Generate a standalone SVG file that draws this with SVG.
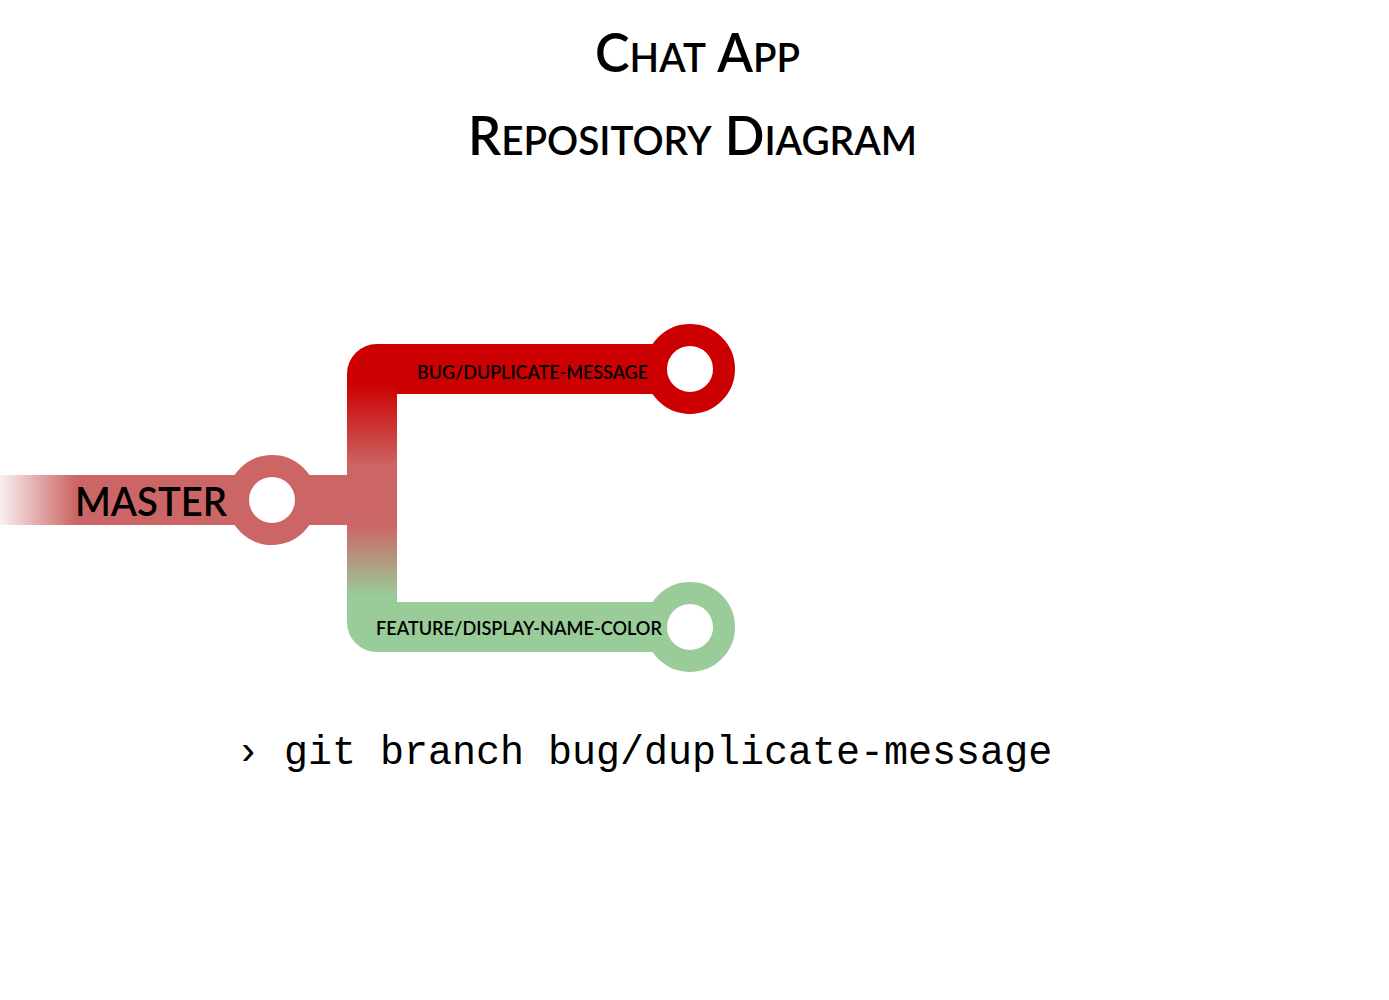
<svg xmlns="http://www.w3.org/2000/svg" width="1389" height="1000" viewBox="0 0 1389 1000">
<style>
.title{font-family:Lato,"Open Sans","Liberation Sans",sans-serif;fill:#000;font-weight:600}
.lbl{font-family:Lato,"Open Sans","Liberation Sans",sans-serif;fill:#000;font-weight:600}
.cmd{font-family:"Liberation Mono","Courier New",monospace;font-size:40px;fill:#000}
.node{fill:#fff;stroke-width:22}
</style>
<defs>
<linearGradient id="fade" gradientUnits="userSpaceOnUse" x1="0" y1="0" x2="75" y2="0">
<stop offset="0" stop-color="#CC6666" stop-opacity="0.1"/>
<stop offset="1" stop-color="#CC6666" stop-opacity="1"/>
</linearGradient>
<linearGradient id="vert" gradientUnits="userSpaceOnUse" x1="0" y1="344" x2="0" y2="652">
<stop offset="0.13" stop-color="#CC0000"/>
<stop offset="0.40" stop-color="#CC6666"/>
<stop offset="0.59" stop-color="#CC6666"/>
<stop offset="0.82" stop-color="#99CC99"/>
</linearGradient>
</defs>
<g id="title">
<text class="title" x="595" y="72" font-size="54" textLength="205" lengthAdjust="spacingAndGlyphs">C<tspan font-size="40">HAT</tspan> A<tspan font-size="40">PP</tspan></text>
<text class="title" x="468" y="155" font-size="54" textLength="449" lengthAdjust="spacingAndGlyphs">R<tspan font-size="40">EPOSITORY</tspan> D<tspan font-size="40">IAGRAM</tspan></text>
</g>
<g id="connectors">
<rect x="0" y="475" width="372" height="50" fill="url(#fade)"/>
<path d="M690 369 H377 A5 5 0 0 0 372 374 V622 A5 5 0 0 0 377 627 H690" fill="none" stroke="url(#vert)" stroke-width="50"/>
<rect x="397" y="344" width="293" height="50" fill="#CC0000"/>
<rect x="397" y="602" width="293" height="50" fill="#99CC99"/>
</g>
<g id="master">
<circle class="node" cx="272" cy="500" r="34" stroke="#CC6666"/>
<text class="lbl" x="75" y="516" font-size="40" textLength="152" lengthAdjust="spacingAndGlyphs">MASTER</text>
</g>
<g id="bug-duplicate-message">
<circle class="node" cx="690" cy="369" r="34" stroke="#CC0000"/>
<text class="lbl" x="417" y="379" font-size="20" textLength="231" lengthAdjust="spacingAndGlyphs">BUG/DUPLICATE-MESSAGE</text>
</g>
<g id="feature-display-name-color">
<circle class="node" cx="690" cy="627" r="34" stroke="#99CC99"/>
<text class="lbl" x="376" y="635" font-size="20" textLength="286" lengthAdjust="spacingAndGlyphs">FEATURE/DISPLAY-NAME-COLOR</text>
</g>
<g id="command">
<text class="cmd" x="236" y="764">› git branch bug/duplicate-message</text>
</g>
</svg>
